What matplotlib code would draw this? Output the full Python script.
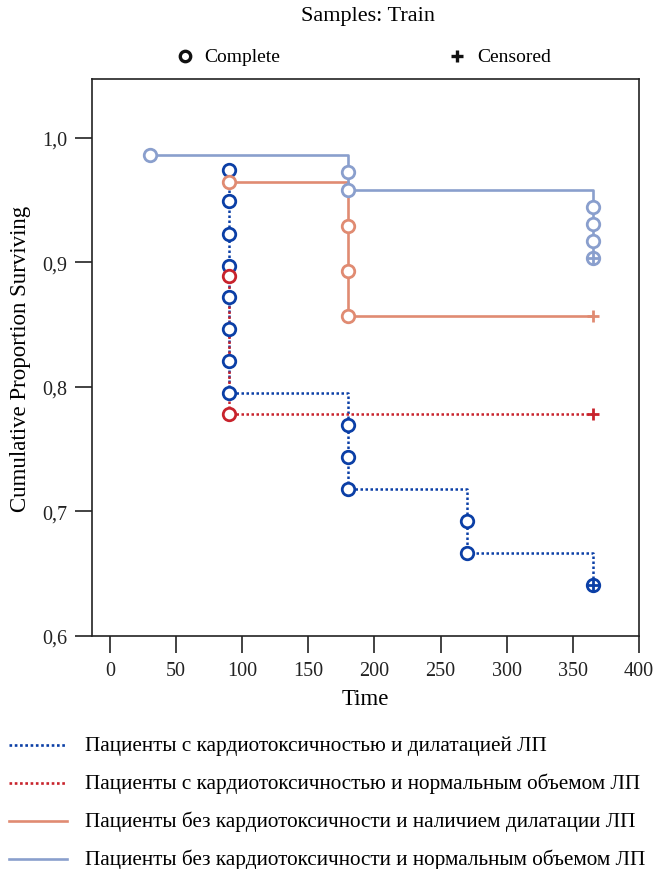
import matplotlib
matplotlib.use("Agg")
import matplotlib.pyplot as plt
from matplotlib.lines import Line2D
from matplotlib.ticker import FuncFormatter

plt.rcParams['font.family'] = ['Liberation Serif', 'DejaVu Serif']

# ---- data ----
labels = [
    "Пациенты с кардиотоксичностью и дилатацией ЛП",
    "Пациенты с кардиотоксичностью и нормальным объемом ЛП",
    "Пациенты без кардиотоксичности и наличием дилатации ЛП",
    "Пациенты без кардиотоксичности и нормальным объемом ЛП",
]
colors = ["#0b3fa6", "#c8232c", "#e08b72", "#8a9fcd"]
styles = ["dotted", "dotted", "solid", "solid"]

t_g1 = [90, 90, 90, 90, 90, 90, 90, 90, 180, 180, 180, 270, 270, 365]
s_g1 = [0.974, 0.949, 0.923, 0.897, 0.872, 0.846, 0.821, 0.795, 0.769, 0.744, 0.718, 0.692, 0.667, 0.641]
c_g1 = [1] * 14
x_g1 = [365]
y_g1 = [0.641]

t_g2 = [90, 90, 365]
s_g2 = [0.889, 0.778, 0.778]
c_g2 = [1, 1, 0]
x_g2 = [365]
y_g2 = [0.778]

t_g3 = [90, 180, 180, 180, 365]
s_g3 = [0.964, 0.929, 0.893, 0.857, 0.857]
c_g3 = [1, 1, 1, 1, 0]
x_g3 = [365]
y_g3 = [0.857]

t_g4 = [30, 180, 180, 365, 365, 365, 365]
s_g4 = [0.986, 0.972, 0.958, 0.944, 0.931, 0.917, 0.903]
c_g4 = [1] * 7
x_g4 = [365]
y_g4 = [0.903]

groups = [(t_g1, s_g1, c_g1, x_g1, y_g1), (t_g2, s_g2, c_g2, x_g2, y_g2),
          (t_g3, s_g3, c_g3, x_g3, y_g3), (t_g4, s_g4, c_g4, x_g4, y_g4)]

x_ticks = [0, 50, 100, 150, 200, 250, 300, 350, 400]
y_ticks = [0.6, 0.7, 0.8, 0.9, 1.0]

W, H = 653, 870
fig = plt.figure(figsize=(W / 100, H / 100), dpi=100)
ax = fig.add_axes([92 / W, 1 - 637 / H, (639 - 92) / W, (637 - 80) / H])

draw_order = [3, 2, 0, 1]
for i in draw_order:
    t, s, c, xc, yc = groups[i]
    lw = 1.9 if styles[i] == "solid" else 1.8
    ls = "-" if styles[i] == "solid" else (0, (1, 1))
    ax.step(t, s, where="post", color=colors[i], lw=lw, linestyle=ls, zorder=2 + i * 0.1)
    ct = [ti for ti, ci in zip(t, c) if ci]
    cs = [si for si, ci in zip(s, c) if ci]
    ax.plot(ct, cs, linestyle="none", marker="o", markersize=9, markeredgewidth=2.0,
            markeredgecolor=colors[i], markerfacecolor="white", zorder=3 + i * 0.1)
    ax.plot(xc, yc, linestyle="none", marker="+", markersize=9, markeredgewidth=2.0,
            color=colors[i], zorder=4 + i * 0.1)

ax.set_xlim(-13.6, 400)
ax.set_ylim(0.6, 1.047)
ax.set_xticks(x_ticks)
ax.set_yticks(y_ticks)
ax.yaxis.set_major_formatter(FuncFormatter(lambda v, p: f"{v:.1f}".replace(".", ",")))
ax.tick_params(direction="out", length=12, width=1.2, labelsize=14.5, colors="#222222", pad=6)
for sp in ax.spines.values():
    sp.set_linewidth(1.2)
    sp.set_color("#222222")
ax.set_xlabel("Time", fontsize=16.5, labelpad=6)
ax.set_ylabel("Cumulative Proportion Surviving", fontsize=16.5, labelpad=8)


def fx(px):
    return px / W


def fy(py):
    return 1 - py / H


fig.text(fx(368), fy(17), "Samples: Train", fontsize=16, va="center", ha="center")

# top legend
fig.add_artist(Line2D([fx(185)], [fy(57)], transform=fig.transFigure, marker="o", markersize=7.5,
                      markeredgewidth=2.4, markeredgecolor="#111111", markerfacecolor="white", linestyle="none"))
fig.text(fx(204), fy(57), "Complete", fontsize=14, va="center", ha="left")
fig.add_artist(Line2D([fx(457)], [fy(57)], transform=fig.transFigure, marker="+", markersize=8.5,
                      markeredgewidth=2.4, color="#111111", linestyle="none"))
fig.text(fx(477), fy(57), "Censored", fontsize=14, va="center", ha="left")

# bottom legend
rows = [746, 784, 822, 860]
for i, yy in enumerate(rows):
    ls = "-" if styles[i] == "solid" else (0, (1, 1))
    fig.add_artist(Line2D([fx(9), fx(67)], [fy(yy), fy(yy)], transform=fig.transFigure,
                          color=colors[i], lw=1.9, linestyle=ls))
    fig.text(fx(85), fy(yy), labels[i], fontsize=15.3, va="center", ha="left")

fig.savefig("out.png", dpi=100)
